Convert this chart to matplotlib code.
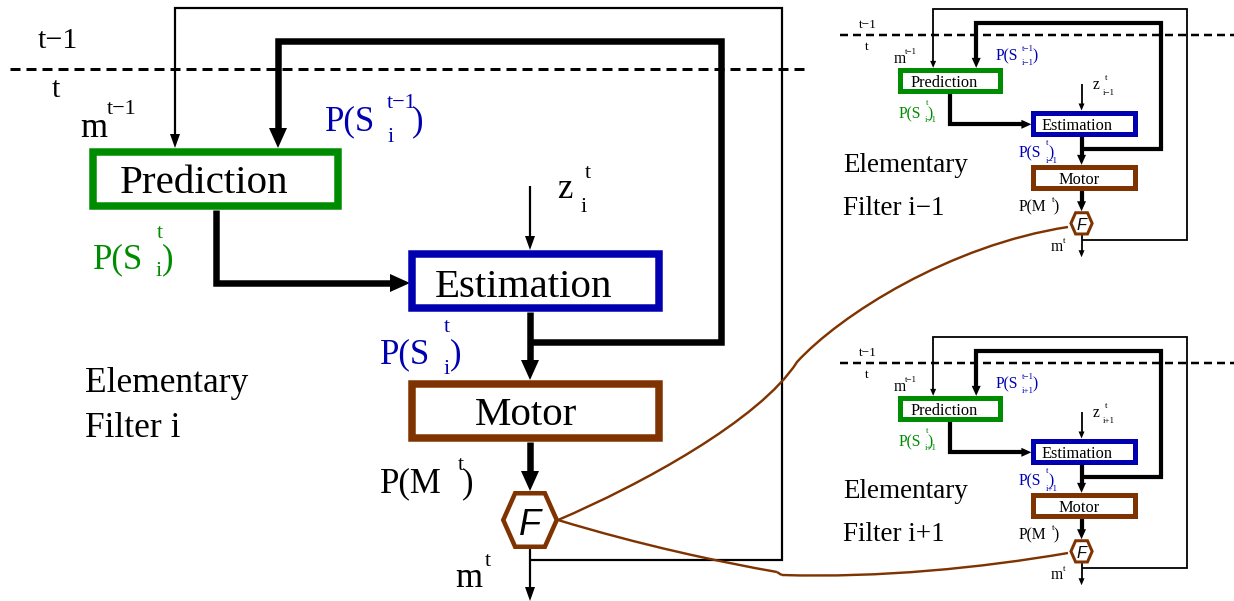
import matplotlib
matplotlib.use('Agg')
import matplotlib.pyplot as plt
from matplotlib.patches import Rectangle, Polygon, PathPatch
from matplotlib.path import Path

plt.rcParams['lines.scale_dashes'] = False

# ---- text content ----
block_labels = ["Prediction", "Estimation", "Motor"]
filter_subs = ["i", "i\u22121", "i+1"]
filter_names = ["Filter i", "Filter i\u22121", "Filter i+1"]
time_labels = ["t\u22121", "t"]
GREEN = '#008c00'
BLUE = '#0000b0'
BROWN = '#7f3300'
SERIF = 'Liberation Serif'

fig = plt.figure(figsize=(12.34, 6.01), dpi=100)
ax = fig.add_axes([0, 0, 1, 1])
ax.set_xlim(0, 1234)
ax.set_ylim(601, 0)
ax.axis('off')

PX = 0.72  # pixel -> point


def arrow_line(pts, lw_px, L, W, color='black', head=True, z=3):
    pts = [tuple(p) for p in pts]
    (x0, y0), (x1, y1) = pts[-2], pts[-1]
    dx, dy = x1 - x0, y1 - y0
    n = (dx * dx + dy * dy) ** 0.5
    ux, uy = dx / n, dy / n
    line = list(pts)
    if head:
        line[-1] = (x1 - ux * L * 0.8, y1 - uy * L * 0.8)
    xs = [p[0] for p in line]
    ys = [p[1] for p in line]
    ax.plot(xs, ys, color=color, lw=lw_px * PX, solid_joinstyle='miter',
            solid_capstyle='butt', zorder=z)
    if head:
        bx, by = x1 - ux * L, y1 - uy * L
        px, py = -uy, ux
        poly = [(x1, y1), (bx + px * W, by + py * W), (bx - px * W, by - py * W)]
        ax.add_patch(Polygon(poly, closed=True, color=color, lw=0, zorder=z + 0.5))


def draw_filter(ox, oy, s, tb, tl, tsc, tf, sub, thin, thick, border, hexb,
                Lk, Wk, Lt, Wt):
    T = lambda x, y: (ox + s * x, oy + s * y)

    # loops
    arrow_line([T(530, 560), T(782, 560), T(782, 8), T(175, 8), T(175, 148)],
               thin, Lt, Wt)
    arrow_line([T(530, 342), T(721, 342), T(721, 41), T(278, 41), T(278, 148)],
               thick, Lk, Wk)
    # flows
    arrow_line([T(216, 210), T(216, 283), T(410, 283)], thick, Lk, Wk)
    arrow_line([T(530, 312), T(530, 380)], thick, Lk, Wk)
    arrow_line([T(530, 442), T(530, 491)], thick, Lk, Wk)
    arrow_line([T(530, 549), T(530, 601)], thin, Lt, Wt)
    arrow_line([T(530, 186), T(530, 250)], thin, Lt, Wt)

    # boxes
    boxes = [((89, 148, 342, 210), GREEN), ((408, 250, 663, 312), BLUE),
             ((408, 380, 663, 442), BROWN)]
    for (x0, y0, x1, y1), c in boxes:
        a = T(x0, y0)
        b = T(x1, y1)
        h = border / 2
        ax.add_patch(Rectangle((a[0] + h, a[1] + h), b[0] - a[0] - border,
                               b[1] - a[1] - border, facecolor='white',
                               edgecolor=c, lw=border * PX, joinstyle='miter',
                               zorder=4))
    # block text
    for lab, (x, y) in zip(block_labels, [(120, 193), (435, 297), (475, 425)]):
        X, Y = T(x, y)
        ax.text(X, Y, lab, family=SERIF, fontsize=29.5 * tb, ha='left',
                va='baseline', zorder=6)

    # hexagon
    cx, cy = T(530, 520)
    hw, ft, hh = 29 * s - hexb / 2, 16 * s - hexb / 4, 29 * s - hexb / 2
    hexv = [(cx - hw, cy), (cx - ft, cy - hh), (cx + ft, cy - hh), (cx + hw, cy),
            (cx + ft, cy + hh), (cx - ft, cy + hh)]
    ax.add_patch(Polygon(hexv, closed=True, facecolor='white', edgecolor=BROWN,
                         lw=hexb * PX, joinstyle='miter', zorder=5))
    X, Y = T(530, 535)
    ax.text(X, Y, "F", family='Liberation Sans', style='italic',
            fontsize=26 * tf, ha='center', va='baseline', zorder=6)

    # labels: (text, x, y, kind, color)
    B, S_ = 25 * tl, 16 * tsc
    pieces = [
        ("m", 80, 137, 'b', 'black'), ("t\u22121", 107, 110, 's', 'black'),
        ("P(S", 325, 130, 'b', BLUE), ("t\u22121", 387, 103, 's', BLUE),
        (sub, 388, 137, 's', BLUE), (")", 412, 130, 'b', BLUE),
        ("P(S", 93, 268, 'b', GREEN), ("t", 157, 233, 's', GREEN),
        (sub, 156, 272, 's', GREEN), (")", 162, 268, 'b', GREEN),
        ("z", 557, 198, 'b', 'black'), ("t", 585, 173, 's', 'black'),
        (sub, 581, 207, 's', 'black'),
        ("P(S", 380, 363, 'b', BLUE), ("t", 444, 328, 's', BLUE),
        (sub, 444, 370, 's', BLUE), (")", 450, 363, 'b', BLUE),
        ("P(M", 380, 492, 'b', 'black'), ("t", 458, 465, 's', 'black'),
        (")", 462, 492, 'b', 'black'),
        ("m", 455, 587, 'b', 'black'), ("t", 485, 562, 's', 'black'),
    ]
    for txt, x, y, kind, c in pieces:
        X, Y = T(x, y)
        if kind == 'b':
            ax.text(X, Y, txt, family=SERIF, fontsize=B, color=c, ha='left',
                    va='baseline', zorder=6)
        else:
            ax.text(X, Y, txt, family=SERIF, fontsize=S_, color=c, ha='left',
                    va='center', zorder=6)


def time_line(x0, x1, y, lw_px, dash, gap, tsize, tx, t1y, ty):
    ax.plot([x0, x1], [y, y], color='black', lw=lw_px * PX,
            dashes=(dash * PX, gap * PX), zorder=2)
    ax.text(tx, t1y, time_labels[0], family=SERIF, fontsize=tsize,
            ha='left', va='baseline')
    ax.text(tx + 7 * tsize / 21.6 * 2, ty, time_labels[1], family=SERIF,
            fontsize=tsize, ha='left', va='baseline')


def filter_title(x, y1, y2, size, name):
    ax.text(x, y1, "Elementary", family=SERIF, fontsize=size, ha='left',
            va='baseline')
    ax.text(x, y2, name, family=SERIF, fontsize=size, ha='left',
            va='baseline')


# ---- main filter ----
time_line(10, 805, 69, 3, 10, 6, 21.6, 38, 48, 97)
draw_filter(0, 0, 1.0, 1.0, 1.0, 1.0, 1.0, filter_subs[0],
            2.2, 6.5, 7.5, 4.5, 20, 9, 14, 5)
filter_title(85, 392, 437, 25.5, filter_names[0])

# ---- small filters ----
s = 0.418
for oy, sub, name, ty in [(6, filter_subs[1], filter_names[1], 172),
                          (334, filter_subs[2], filter_names[2], 498)]:
    dy = oy + s * 69
    time_line(840, 1234, dy, 2.5, 8, 5, 9.5, 859, dy - 7, dy + 15)
    draw_filter(860, oy, s, 0.40, 0.45, 0.40, 0.45, sub,
                1.8, 4.2, 5.0, 3.0, 10, 4.5, 7, 3)
    filter_title(843, ty, ty + 43, 19.5, name)

# ---- brown connection curves ----
curves = [
    [(558, 520), (640, 485), (760, 420), (797, 362), (840, 315), (950, 245), (1068, 227)],
    [(558, 520), (640, 545), (720, 562), (777, 572)],
    [(777, 572), (780, 574), (782, 575)],
    [(782, 575), (880, 578), (980, 568), (1068, 553)],
]
for pts in curves:
    if len(pts) == 3:
        codes = [Path.MOVETO, Path.LINETO, Path.LINETO]
    else:
        codes = [Path.MOVETO] + [Path.CURVE4] * (len(pts) - 1)
    ax.add_patch(PathPatch(Path(pts, codes), facecolor='none', edgecolor=BROWN,
                           lw=2.4 * PX, zorder=7))

fig.savefig('out.png', dpi=100)
